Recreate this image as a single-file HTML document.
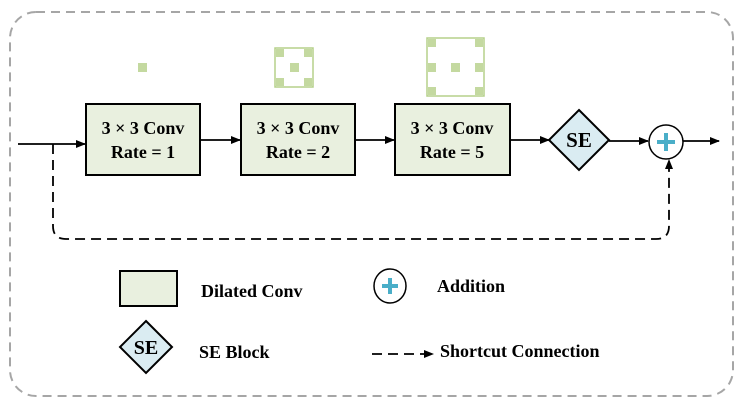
<!DOCTYPE html>
<html><head><meta charset="utf-8"><style>
body{margin:0;background:#fff;}
svg{display:block;}
text{font-family:"Liberation Serif","DejaVu Serif",serif;font-weight:bold;}
</style></head><body>
<svg width="744" height="409" viewBox="0 0 744 409" xmlns="http://www.w3.org/2000/svg" font-family="Liberation Serif, serif" font-weight="bold">
<defs>
<marker id="a" markerWidth="10" markerHeight="8" refX="9" refY="4" orient="auto" markerUnits="userSpaceOnUse"><path d="M0,0 L10,4 L0,8 Z" fill="#000"/></marker>
</defs>
<rect x="10" y="12" width="723" height="384" rx="26" fill="none" stroke="#a6a6a6" stroke-width="2" stroke-dasharray="9,6"/>
<rect x="138" y="63" width="9" height="9" fill="#c4d9a0"/>
<g fill="#c4d9a0">
<rect x="275" y="48" width="38" height="39" fill="none" stroke="#b5d18a" stroke-width="1.5"/>
<rect x="276" y="49" width="8" height="8"/><rect x="304" y="49" width="8" height="8"/>
<rect x="290" y="63" width="9" height="9"/>
<rect x="276" y="78" width="8" height="8"/><rect x="304" y="78" width="8" height="8"/>
<rect x="427" y="38" width="57" height="58" fill="none" stroke="#b5d18a" stroke-width="1.5"/>
<rect x="428" y="39" width="8" height="8"/><rect x="475" y="39" width="8" height="8"/>
<rect x="428" y="63" width="8" height="9"/><rect x="451" y="63" width="9" height="9"/><rect x="475" y="63" width="8" height="9"/>
<rect x="428" y="87" width="8" height="8"/><rect x="475" y="87" width="8" height="8"/>
</g>
<line x1="18" y1="144" x2="85" y2="144" stroke="#000" stroke-width="1.8" marker-end="url(#a)"/>
<line x1="200" y1="140" x2="240" y2="140" stroke="#000" stroke-width="1.8" marker-end="url(#a)"/>
<line x1="355" y1="140" x2="394" y2="140" stroke="#000" stroke-width="1.8" marker-end="url(#a)"/>
<line x1="510" y1="140" x2="549" y2="140" stroke="#000" stroke-width="1.8" marker-end="url(#a)"/>
<line x1="609" y1="141" x2="648" y2="141" stroke="#000" stroke-width="1.8" marker-end="url(#a)"/>
<line x1="683" y1="141" x2="719" y2="141" stroke="#000" stroke-width="1.8" marker-end="url(#a)"/>
<g fill="#e9f0df" stroke="#000" stroke-width="2">
<rect x="86" y="104" width="114" height="71"/>
<rect x="241" y="104" width="114" height="71"/>
<rect x="395" y="104" width="115" height="71"/>
</g>
<g font-size="18" text-anchor="middle">
<text x="143" y="134">3 × 3 Conv</text><text x="143" y="158">Rate = 1</text>
<text x="298" y="134">3 × 3 Conv</text><text x="298" y="158">Rate = 2</text>
<text x="452" y="134">3 × 3 Conv</text><text x="452" y="158">Rate = 5</text>
</g>
<polygon points="579,110 609,140 579,170 549,140" fill="#daecf2" stroke="#000" stroke-width="2"/>
<text x="579" y="147" font-size="21" text-anchor="middle">SE</text>
<circle cx="666" cy="142" r="17" fill="#fff" stroke="#000" stroke-width="1.5"/>
<path d="M666,133v18M657,142h18" stroke="#4aaec8" stroke-width="4"/>
<path d="M53,144 V226 Q53,239 66,239 H656 Q669,239 669,226 V160" fill="none" stroke="#000" stroke-width="1.8" stroke-dasharray="10,6" marker-end="url(#a)"/>
<rect x="120" y="271" width="57" height="35" fill="#e9f0df" stroke="#000" stroke-width="2"/>
<text x="201" y="297" font-size="18">Dilated Conv</text>
<ellipse cx="390" cy="286" rx="16" ry="17" fill="#fff" stroke="#000" stroke-width="1.5"/>
<path d="M390,278v16M382,286h16" stroke="#4aaec8" stroke-width="4"/>
<text x="437" y="292" font-size="18">Addition</text>
<polygon points="146,321 172,347 146,373 120,347" fill="#daecf2" stroke="#000" stroke-width="2"/>
<text x="146" y="354" font-size="20" text-anchor="middle">SE</text>
<text x="199" y="358" font-size="18">SE Block</text>
<line x1="372" y1="354" x2="433" y2="354" stroke="#000" stroke-width="1.8" stroke-dasharray="10,6" marker-end="url(#a)"/>
<text x="440" y="357" font-size="18">Shortcut Connection</text>
</svg>
</body></html>
